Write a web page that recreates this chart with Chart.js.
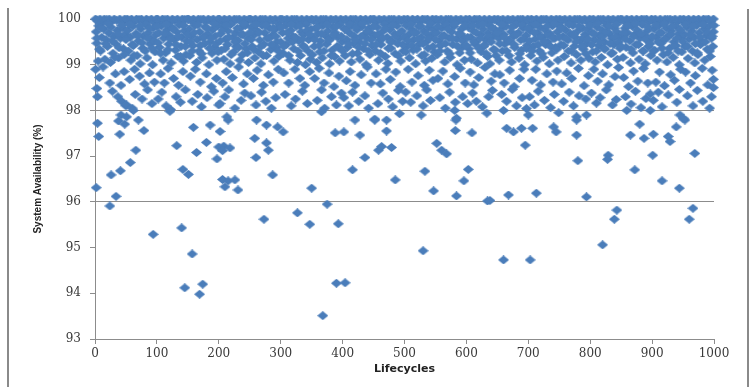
<!DOCTYPE html>
<html><head><meta charset="utf-8">
<script src="https://cdn.jsdelivr.net/npm/chart.js@4"></script>
<style>html,body{margin:0;padding:0;background:#fff}#wrap{width:750px;height:387px;position:relative}</style>
</head><body><div id="wrap"><canvas id="c" width="750" height="387"></canvas></div>
<script>
// [lifecycle, system availability %]
const topRow = [
[1,100],[4,99.96],[8,100],[12,99.93],[15,100],[19,99.98],[23,100],[27,99.95],[31,100],[35,99.97],[40,100],[44,99.92],[48,100],
[52,100],[55,99.97],[59,100],[63,99.94],[67,100],[71,99.99],[75,100],[79,99.95],[83,100],[87,99.97],[91,100],[95,99.93],[99,100],
[101,100],[105,99.95],[109,100],[113,99.98],[117,100],[121,99.93],[125,100],[129,99.97],[133,100],[137,99.94],[141,100],[145,99.99],[149,100],
[151,100],[155,99.96],[159,100],[163,99.92],[167,100],[171,99.98],[175,100],[179,99.95],[183,100],[187,99.97],[191,100],[195,99.93],[199,100],
[201,100],[205,99.94],[209,100],[213,99.97],[217,100],[221,99.92],[225,100],[229,99.98],[233,100],[237,99.95],[241,100],[245,99.96],[249,100],
[251,100],[255,99.97],[259,100],[263,99.93],[267,100],[271,99.98],[275,100],[279,99.94],[283,100],[287,99.96],[291,100],[295,99.92],[299,100],
[302,100],[306,99.97],[310,100],[314,99.94],[318,100],[322,99.98],[326,100],[330,99.95],[334,100],[338,99.92],[342,100],[346,99.97],[350,100],
[353,99.96],[357,100],[361,99.93],[365,100],[369,99.98],[373,100],[377,99.95],[381,100],[385,99.97],[389,100],[393,99.94],[397,100],
[401,99.97],[405,100],[409,99.94],[413,100],[417,99.98],[421,100],[425,99.93],[429,100],[433,99.96],[437,100],[441,99.95],[445,100],[449,99.98],
[451,100],[455,99.95],[459,100],[463,99.97],[467,100],[471,99.92],[475,100],[479,99.98],[483,100],[487,99.94],[491,100],[495,99.96],[499,100],
[501,99.96],[505,100],[509,99.93],[513,100],[517,99.97],[521,100],[525,99.95],[529,100],[533,99.98],[537,100],[541,99.94],[545,100],[549,99.97],
[551,100],[555,99.97],[559,100],[563,99.94],[567,100],[571,99.98],[575,100],[579,99.93],[583,100],[587,99.96],[591,100],[595,99.95],[599,100],
[601,99.97],[605,100],[609,99.94],[613,100],[617,99.98],[621,100],[625,99.95],[629,100],[633,99.92],[637,100],[641,99.97],[645,100],[649,99.96],
[651,100],[655,99.96],[659,100],[663,99.93],[667,100],[671,99.97],[675,100],[679,99.95],[683,100],[687,99.98],[691,100],[695,99.94],[699,100],
[701,99.95],[705,100],[709,99.97],[713,100],[717,99.93],[721,100],[725,99.98],[729,100],[733,99.94],[737,100],[741,99.96],[745,100],[749,99.92],
[751,100],[755,99.97],[759,100],[763,99.95],[767,100],[771,99.93],[775,100],[779,99.98],[783,100],[787,99.96],[791,100],[795,99.94],[799,100],
[801,99.96],[805,100],[809,99.94],[813,100],[817,99.98],[821,100],[825,99.92],[829,100],[833,99.97],[837,100],[841,99.95],[845,100],[849,99.98],
[851,100],[855,99.95],[859,100],[863,99.97],[867,100],[871,99.93],[875,100],[879,99.96],[883,100],[887,99.98],[891,100],[895,99.94],[899,100],
[901,99.97],[905,100],[909,99.95],[913,100],[917,99.93],[921,100],[925,99.98],[929,100],[933,99.96],[937,100],[941,99.94],[945,100],[949,99.97],
[951,100],[955,99.96],[959,100],[963,99.94],[967,100],[971,99.97],[975,100],[979,99.93],[983,100],[987,99.98],[991,100],[995,99.95],[999,100]
];
const upperBand = [
[2,99.72],[6,99.85],[11,99.6],[14,99.78],[18,99.55],[22,99.7],[26,99.82],[30,99.62],[36,99.75],[41,99.58],[45,99.8],[49,99.66],
[53,99.75],[57,99.6],[61,99.84],[66,99.68],[70,99.52],[74,99.78],[78,99.63],[82,99.88],[86,99.7],[90,99.57],[94,99.8],[98,99.65],
[103,99.7],[107,99.85],[111,99.58],[116,99.76],[120,99.64],[124,99.82],[128,99.55],[132,99.72],[136,99.87],[140,99.6],[144,99.74],[148,99.52],
[152,99.78],[156,99.62],[161,99.86],[165,99.55],[169,99.72],[174,99.6],[178,99.83],[182,99.68],[186,99.5],[190,99.77],[194,99.63],[198,99.85],
[203,99.68],[207,99.84],[211,99.56],[215,99.74],[219,99.88],[223,99.6],[227,99.7],[231,99.53],[235,99.8],[239,99.66],[243,99.86],[247,99.58],
[253,99.82],[257,99.65],[261,99.75],[266,99.54],[270,99.86],[274,99.7],[278,99.58],[282,99.8],[286,99.64],[290,99.76],[294,99.5],[298,99.84],
[303,99.7],[308,99.86],[312,99.58],[316,99.75],[320,99.62],[325,99.84],[329,99.52],[333,99.72],[337,99.66],[341,99.88],[345,99.55],[349,99.78],
[352,99.6],[356,99.8],[360,99.68],[364,99.52],[368,99.85],[372,99.64],[376,99.74],[380,99.56],[384,99.82],[388,99.7],[392,99.6],[396,99.87],[399,99.5],
[403,99.78],[407,99.55],[411,99.7],[415,99.86],[419,99.62],[423,99.76],[427,99.5],[431,99.83],[435,99.66],[439,99.58],[443,99.8],[447,99.68],
[452,99.64],[456,99.82],[460,99.54],[464,99.72],[468,99.88],[472,99.6],[476,99.77],[480,99.52],[484,99.68],[488,99.85],[492,99.58],[496,99.74],
[503,99.86],[507,99.66],[511,99.78],[515,99.55],[519,99.7],[523,99.84],[527,99.6],[531,99.74],[535,99.5],[539,99.82],[543,99.64],[547,99.76],
[552,99.7],[556,99.52],[560,99.8],[564,99.64],[568,99.87],[572,99.58],[576,99.72],[580,99.84],[584,99.56],[588,99.68],[592,99.78],[596,99.6],
[603,99.82],[607,99.6],[611,99.74],[615,99.5],[619,99.86],[623,99.66],[627,99.78],[631,99.55],[635,99.7],[639,99.84],[643,99.62],[647,99.76],
[652,99.58],[656,99.78],[660,99.66],[664,99.84],[668,99.52],[672,99.72],[676,99.62],[680,99.88],[684,99.7],[688,99.54],[692,99.8],[696,99.64],
[703,99.74],[707,99.86],[711,99.56],[715,99.7],[719,99.82],[723,99.6],[727,99.76],[731,99.5],[735,99.68],[739,99.85],[743,99.58],[747,99.72],
[752,99.84],[756,99.62],[760,99.76],[764,99.54],[768,99.68],[772,99.86],[776,99.6],[780,99.74],[784,99.52],[788,99.8],[792,99.66],[796,99.78],
[803,99.7],[807,99.55],[811,99.82],[815,99.64],[819,99.76],[823,99.5],[827,99.86],[831,99.68],[835,99.58],[839,99.8],[843,99.72],[847,99.6],
[852,99.62],[856,99.8],[860,99.7],[864,99.52],[868,99.84],[872,99.66],[876,99.76],[880,99.58],[884,99.88],[888,99.64],[892,99.74],[896,99.54],
[903,99.78],[907,99.6],[911,99.86],[915,99.7],[919,99.55],[923,99.8],[927,99.64],[931,99.74],[935,99.5],[939,99.84],[943,99.68],[947,99.58],
[952,99.66],[956,99.82],[960,99.56],[964,99.74],[968,99.6],[972,99.86],[976,99.7],[980,99.52],[984,99.78],[988,99.64],[992,99.84],[996,99.58],[999,99.72]
];
const middleBand = [
[3,99.47],[5,99.08],[9,99.3],[16,99.12],[20,99.4],[25,99.05],[29,99.25],[34,99.45],[38,99.15],[46,99.35],
[54,99.3],[58,99.1],[62,99.42],[68,99.2],[73,99.02],[77,99.36],[84,99.15],[89,99.45],[93,99.0],[97,99.28],
[104,99.38],[110,99.1],[114,99.26],[119,99.45],[123,99.04],[130,99.32],[134,99.18],[139,99.4],[143,99.08],[147,99.22],
[153,99.2],[158,99.42],[164,99.05],[168,99.3],[173,99.15],[177,99.46],[184,99.0],[189,99.25],[193,99.38],[197,99.1],
[204,99.32],[208,99.12],[214,99.44],[218,99.02],[224,99.28],[228,99.4],[234,99.1],[238,99.22],[244,99.35],[248,99.05],
[254,99.4],[258,99.15],[264,99.28],[268,99.02],[273,99.45],[277,99.2],[284,99.33],[289,99.08],[293,99.38],[297,99.18],
[304,99.25],[309,99.44],[315,99.1],[321,99.35],[327,99.05],[332,99.2],[336,99.42],[340,99.0],[344,99.3],[348,99.12],
[354,99.4],[358,99.05],[363,99.28],[367,99.15],[374,99.45],[379,99.02],[383,99.32],[387,99.18],[391,99.4],[395,99.08],
[404,99.2],[408,99.38],[414,99.06],[418,99.46],[424,99.25],[428,99.12],[434,99.35],[438,99.0],[444,99.22],[448,99.42],
[453,99.3],[458,99.1],[462,99.44],[469,99.18],[473,99.03],[478,99.36],[485,99.24],[489,99.46],[494,99.08],[498,99.3],
[504,99.4],[508,99.15],[514,99.32],[518,99.02],[524,99.45],[528,99.2],[534,99.08],[538,99.36],[544,99.14],[548,99.28],
[553,99.22],[558,99.42],[565,99.06],[569,99.3],[574,99.16],[578,99.44],[585,99.0],[589,99.26],[593,99.38],[597,99.1],
[604,99.35],[608,99.12],[614,99.45],[618,99.04],[624,99.28],[628,99.4],[634,99.18],[638,99.02],[644,99.34],[648,99.2],
[653,99.1],[658,99.3],[662,99.45],[669,99.2],[673,99.06],[678,99.38],[685,99.14],[689,99.32],[694,99.0],[698,99.42],
[704,99.2],[708,99.4],[714,99.08],[718,99.3],[724,99.16],[728,99.44],[734,99.02],[738,99.26],[744,99.38],[748,99.1],
[753,99.44],[758,99.18],[765,99.3],[769,99.04],[774,99.4],[778,99.22],[785,99.1],[789,99.34],[794,99.46],[798,99.14],
[804,99.28],[808,99.06],[814,99.42],[818,99.16],[824,99.34],[828,99.0],[834,99.24],[838,99.44],[844,99.12],[848,99.36],
[853,99.16],[858,99.38],[865,99.04],[869,99.26],[874,99.44],[879,99.12],[885,99.3],[889,99.02],[894,99.4],[898,99.2],
[904,99.32],[908,99.1],[914,99.46],[918,99.22],[924,99.06],[928,99.36],[934,99.16],[938,99.42],[944,99.0],[948,99.28],
[953,99.4],[958,99.14],[965,99.3],[969,99.04],[974,99.22],[978,99.44],[985,99.1],[989,99.34],[994,99.18],[998,99.4]
];
const fillBand = [
[3,99.58],[7,99.34],[10,99.81],[17,99.46],[21,99.9],[28,99.52],[32,99.16],[37,99.68],[39,99.37],[43,99.86],[47,99.22],[50,99.55],
[56,99.88],[60,99.44],[63,99.2],[69,99.63],[72,99.85],[76,99.48],[81,99.3],[85,99.58],[88,99.8],[92,99.36],[96,99.52],[100,99.84],
[102,99.48],[106,99.25],[112,99.68],[115,99.88],[118,99.33],[122,99.56],[126,99.78],[131,99.44],[135,99.62],[138,99.18],[143,99.86],[146,99.4],[150,99.66],
[154,99.5],[157,99.3],[160,99.7],[166,99.87],[170,99.42],[172,99.24],[176,99.6],[181,99.8],[185,99.36],[188,99.58],[192,99.9],[196,99.46],[199,99.28],
[202,99.52],[206,99.76],[210,99.35],[212,99.86],[216,99.6],[220,99.22],[226,99.5],[230,99.8],[232,99.38],[236,99.66],[240,99.9],[242,99.46],[246,99.26],[250,99.7],
[252,99.55],[256,99.34],[260,99.88],[265,99.7],[268,99.4],[272,99.2],[276,99.86],[281,99.58],[285,99.44],[288,99.8],[292,99.62],[296,99.3],[300,99.5],
[301,99.82],[305,99.4],[311,99.7],[313,99.2],[317,99.88],[319,99.5],[324,99.6],[328,99.3],[331,99.85],[335,99.56],[339,99.38],[343,99.76],[347,99.66],[351,99.22],
[355,99.55],[359,99.82],[362,99.42],[366,99.68],[370,99.3],[375,99.88],[378,99.54],[382,99.2],[386,99.66],[390,99.84],[394,99.38],[398,99.62],
[400,99.3],[406,99.78],[410,99.46],[412,99.88],[416,99.24],[420,99.55],[422,99.82],[426,99.38],[430,99.62],[432,99.9],[436,99.46],[440,99.74],[442,99.3],[446,99.55],
[450,99.84],[454,99.44],[457,99.66],[461,99.25],[465,99.58],[470,99.8],[474,99.36],[477,99.5],[481,99.86],[486,99.62],[490,99.2],[493,99.7],[497,99.44],
[500,99.6],[502,99.28],[506,99.52],[510,99.88],[512,99.42],[516,99.7],[520,99.34],[522,99.56],[526,99.85],[530,99.46],[532,99.22],[536,99.68],[540,99.58],[542,99.9],[546,99.4],
[550,99.55],[554,99.84],[557,99.3],[561,99.62],[566,99.46],[570,99.78],[573,99.24],[577,99.58],[581,99.9],[586,99.4],[590,99.68],[594,99.52],[598,99.86],
[600,99.42],[602,99.6],[606,99.26],[610,99.85],[612,99.5],[616,99.7],[620,99.36],[622,99.58],[626,99.88],[630,99.44],[632,99.24],[636,99.62],[640,99.5],[642,99.8],[646,99.32],
[650,99.7],[654,99.46],[657,99.88],[661,99.6],[665,99.3],[670,99.52],[674,99.82],[677,99.44],[681,99.66],[686,99.24],[690,99.86],[693,99.56],[697,99.36],
[700,99.8],[702,99.52],[706,99.3],[710,99.7],[712,99.88],[716,99.44],[720,99.6],[722,99.24],[726,99.5],[730,99.84],[732,99.66],[736,99.4],[740,99.58],[742,99.9],[746,99.34],
[750,99.6],[753,99.8],[757,99.42],[761,99.58],[766,99.88],[770,99.3],[773,99.66],[777,99.5],[782,99.84],[786,99.4],[790,99.6],[793,99.24],[797,99.56],
[800,99.86],[802,99.44],[806,99.68],[810,99.3],[812,99.9],[816,99.5],[820,99.62],[822,99.36],[826,99.72],[830,99.84],[832,99.46],[836,99.26],[840,99.6],[842,99.88],[846,99.5],
[850,99.4],[854,99.7],[857,99.56],[861,99.86],[866,99.34],[870,99.62],[873,99.9],[878,99.44],[882,99.68],[886,99.3],[890,99.55],[893,99.82],[897,99.46],
[900,99.62],[902,99.3],[906,99.86],[910,99.5],[912,99.7],[916,99.36],[920,99.9],[922,99.56],[926,99.26],[930,99.66],[932,99.84],[936,99.42],[940,99.58],[942,99.3],[946,99.76],
[950,99.5],[954,99.88],[957,99.4],[961,99.66],[966,99.84],[970,99.46],[973,99.26],[977,99.6],[982,99.88],[986,99.5],[990,99.7],[993,99.3],[997,99.62],[1000,99.86]
];
const lowerBand = [
[1,98.9],[7,98.72],[13,98.95],[24,98.6],[33,98.8],[42,98.55],[47,98.85],[3,98.48],[4,98.3],[28,98.42],[37,98.3],[43,98.2],[50,98.1],
[56,98.68],[64,98.9],[72,98.75],[80,98.58],[88,98.82],[96,98.62],[51,98.12],[60,98.05],[65,98.35],[76,98.25],[85,98.45],[92,98.15],
[106,98.8],[112,98.6],[118,98.92],[127,98.7],[135,98.55],[142,98.85],[102,98.25],[108,98.4],[115,98.1],[122,98.02],[131,98.3],[138,98.18],[146,98.45],
[154,98.75],[162,98.9],[170,98.62],[180,98.8],[188,98.52],[196,98.7],[157,98.2],[166,98.35],[172,98.08],[181,98.28],[192,98.42],[200,98.12],
[206,98.6],[212,98.85],[222,98.72],[232,98.95],[240,98.58],[246,98.8],[202,98.15],[210,98.3],[216,98.45],[226,98.05],[236,98.22],[242,98.38],
[256,98.7],[262,98.88],[272,98.55],[280,98.78],[288,98.62],[296,98.9],[252,98.32],[260,98.12],[269,98.4],[276,98.2],[285,98.05],[292,98.28],
[305,98.82],[313,98.6],[323,98.9],[331,98.7],[339,98.55],[347,98.85],[307,98.35],[317,98.1],[324,98.25],[335,98.42],[343,98.15],
[355,98.7],[362,98.92],[370,98.6],[378,98.82],[386,98.52],[394,98.75],[359,98.22],[366,98.45],[371,98.05],[382,98.3],[390,98.12],[398,98.38],
[406,98.65],[412,98.85],[420,98.55],[430,98.78],[440,98.95],[446,98.6],[402,98.28],[410,98.1],[416,98.4],[426,98.2],[436,98.32],[442,98.05],
[454,98.8],[461,98.58],[470,98.9],[477,98.68],[486,98.84],[493,98.52],[457,98.15],[465,98.38],[474,98.25],[481,98.08],[490,98.44],[497,98.2],
[506,98.9],[512,98.62],[522,98.76],[532,98.55],[540,98.88],[546,98.66],[502,98.4],[510,98.18],[520,98.32],[530,98.1],[536,98.45],[542,98.22],
[554,98.7],[562,98.86],[570,98.58],[581,98.74],[590,98.92],[598,98.6],[557,98.28],[566,98.05],[573,98.4],[582,98.18],[594,98.3],
[606,98.84],[612,98.56],[620,98.72],[630,98.94],[640,98.64],[646,98.8],[602,98.15],[610,98.38],[616,98.2],[626,98.08],[636,98.3],[642,98.44],
[654,98.78],[661,98.6],[670,98.88],[677,98.52],[686,98.7],[693,98.9],[657,98.35],[665,98.2],[674,98.46],[681,98.1],[690,98.28],[697,98.04],
[706,98.66],[712,98.9],[720,98.56],[730,98.8],[740,98.62],[746,98.86],[702,98.3],[710,98.12],[716,98.42],[726,98.22],[736,98.06],[742,98.35],
[754,98.58],[762,98.82],[770,98.7],[781,98.92],[790,98.54],[797,98.76],[757,98.2],[766,98.4],[773,98.1],[782,98.32],[793,98.25],
[806,98.9],[812,98.64],[820,98.8],[830,98.56],[840,98.74],[846,98.94],[802,98.38],[810,98.16],[816,98.28],[826,98.45],[836,98.12],[842,98.24],
[854,98.72],[862,98.52],[870,98.86],[877,98.64],[886,98.92],[893,98.6],[857,98.3],[866,98.14],[873,98.42],[882,98.06],[890,98.26],[897,98.36],
[906,98.62],[912,98.84],[920,98.54],[930,98.78],[936,98.66],[946,98.9],[902,98.22],[910,98.4],[916,98.08],[926,98.34],[940,98.18],[944,98.46],
[954,98.84],[962,98.6],[970,98.76],[981,98.92],[990,98.56],[997,98.88],[999,98.68],[957,98.32],[966,98.1],[973,98.44],[982,98.2],[993,98.05],[996,98.3],[999,98.5]
];
const sparsePoints = [
[4,97.72],[6,97.43],[40,97.48],[48,97.7],[70,97.79],[79,97.56],[66,97.13],[57,96.86],[41,96.68],[26,96.59],[2,96.31],[34,96.12],[24,95.91],[94,95.29],
[140,95.43],[132,97.23],[142,96.71],[151,96.6],[159,97.63],[164,97.08],[180,97.3],[186,97.68],[202,97.54],[215,97.79],[200,97.2],[208,97.22],[218,97.18],[206,97.12],[197,96.94],
[206,96.49],[215,96.46],[226,96.48],[210,96.33],[231,96.26],[157,94.86],[145,94.12],[174,94.2],[169,93.98],
[261,97.79],[277,97.68],[295,97.64],[304,97.53],[258,97.39],[277,97.29],[280,97.13],[260,96.97],[287,96.59],[350,96.3],[375,95.95],[327,95.76],[273,95.62],[347,95.51],[393,95.52],
[388,97.51],[402,97.53],[428,97.46],[420,97.79],[452,97.79],[471,97.79],[471,97.55],[458,97.13],[463,97.21],[479,97.19],[436,96.97],[416,96.7],[485,96.48],
[533,96.67],[547,96.24],[584,96.13],[603,96.71],[596,96.46],[552,97.28],[560,97.13],[568,97.05],[582,97.56],[609,97.51],[583,97.79],[634,96.02],[530,94.93],
[390,94.22],[404,94.23],[368,93.51],
[665,97.61],[676,97.53],[689,97.61],[707,97.61],[695,97.24],[741,97.64],[745,97.53],[778,97.46],[778,97.79],[780,96.9],[829,97.02],[828,96.93],[872,96.7],
[880,97.7],[865,97.46],[887,97.39],[902,97.48],[926,97.43],[929,97.32],[939,97.64],[953,97.79],[901,97.02],[916,96.46],[944,96.3],[969,97.06],
[638,96.03],[668,96.15],[713,96.19],[794,96.11],[843,95.82],[839,95.62],[966,95.86],[960,95.62],[820,95.06],[660,94.73],[703,94.73],
[38,97.77],[42,97.9],[51,97.86],[62,98.0],[121,97.98],[213,97.86],[366,97.97],[452,97.81],[492,97.93],[527,97.9],[581,98.0],[584,97.83],
[633,97.94],[660,98.0],[700,97.9],[749,97.95],[778,97.86],[794,97.9],[859,98.0],[897,98.0],[945,97.9],[950,97.83]
];
const xTickValues = [0,100,200,300,400,500,600,700,800,900,1000];
const yTickValues = [93,94,95,96,97,98,99,100];
const gridLevels = [96,98,100];

const allPoints = [].concat(topRow, upperBand, middleBand, fillBand, lowerBand, sparsePoints).map(p => ({x: p[0], y: p[1]}));

function diamond(w, h, color) {
  const c = document.createElement('canvas');
  c.width = w; c.height = h;
  const g = c.getContext('2d');
  g.fillStyle = color;
  g.beginPath();
  g.moveTo(w / 2, 0); g.lineTo(w, h / 2); g.lineTo(w / 2, h); g.lineTo(0, h / 2);
  g.closePath(); g.fill();
  return c;
}
const marker = diamond(11, 9, '#4a7dba');

const framePlugin = {
  id: 'frame',
  beforeDraw(chart) {
    const ctx = chart.ctx;
    ctx.save();
    ctx.fillStyle = '#ffffff';
    ctx.fillRect(0, 0, chart.width, chart.height);
    ctx.strokeStyle = '#8a8a8a';
    ctx.lineWidth = 2;
    ctx.beginPath();
    ctx.moveTo(8, 8); ctx.lineTo(8, chart.height);
    ctx.moveTo(748, 9); ctx.lineTo(748, chart.height);
    ctx.stroke();
    ctx.restore();
  }
};

new Chart(document.getElementById('c'), {
  type: 'scatter',
  data: { datasets: [{
    data: allPoints,
    pointStyle: marker,
    pointRadius: 5,
    pointHoverRadius: 5,
    clip: false
  }]},
  options: {
    responsive: false,
    animation: false,
    events: [],
    layout: { padding: { left: 0, right: 36, top: 19, bottom: 0 } },
    plugins: { legend: { display: false }, tooltip: { enabled: false } },
    scales: {
      x: {
        type: 'linear', min: 0, max: 1000,
        afterBuildTicks: s => { s.ticks = xTickValues.map(v => ({value: v})); },
        afterFit: s => { s.height = 48; },
        ticks: { font: { family: 'DejaVu Serif', size: 12 }, color: '#3a3a3a', padding: 3, maxRotation: 0, callback: v => String(v) },
        grid: { drawOnChartArea: false, drawTicks: true, tickLength: 5, tickColor: '#8c8c8c' },
        border: { display: true, color: '#8c8c8c', width: 1 },
        title: { display: true, text: 'Lifecycles', color: '#222', font: { family: 'DejaVu Sans', size: 11, weight: 'bold' }, padding: { top: 0, bottom: 11 } }
      },
      y: {
        type: 'linear', min: 93, max: 100,
        afterBuildTicks: s => { s.ticks = yTickValues.map(v => ({value: v})); },
        afterFit: s => { s.width = 95; },
        ticks: { font: { family: 'DejaVu Serif', size: 12 }, color: '#3a3a3a', padding: 9, callback: v => String(v) },
        grid: {
          drawOnChartArea: true, drawTicks: true, tickLength: 5, tickColor: '#8c8c8c',
          color: c => (c.tick && gridLevels.includes(c.tick.value)) ? '#8c8c8c' : 'rgba(0,0,0,0)'
        },
        border: { display: true, color: '#8c8c8c', width: 1 },
        title: { display: true, text: 'System Availability (%)', color: '#222', font: { family: 'Liberation Sans', size: 10, weight: 'bold' }, padding: { top: 32, bottom: 0 } }
      }
    }
  },
  plugins: [framePlugin]
});
</script>
</body></html>
